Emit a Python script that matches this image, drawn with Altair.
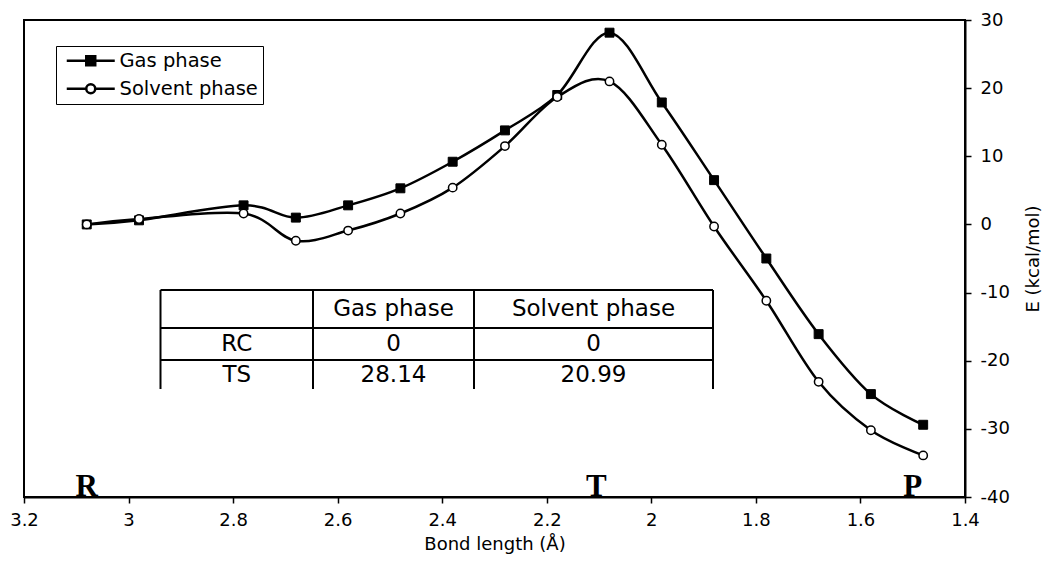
import altair as alt
import pandas as pd

# ---------------- data ----------------
bond_length = [3.08, 2.98, 2.78, 2.68, 2.58, 2.48, 2.38, 2.28, 2.18, 2.08,
               1.98, 1.88, 1.78, 1.68, 1.58, 1.48]
gas_phase = [0.0, 0.6, 2.8, 1.0, 2.8, 5.3, 9.2, 13.8, 19.0, 28.14,
             17.9, 6.5, -5.0, -16.1, -24.9, -29.4]
solvent_phase = [0.0, 0.8, 1.6, -2.4, -0.9, 1.6, 5.4, 11.5, 18.7, 20.99,
                 11.7, -0.3, -11.2, -23.1, -30.2, -33.9]
series_names = ["Gas phase", "Solvent phase"]

x_ticks = [3.2, 3.0, 2.8, 2.6, 2.4, 2.2, 2.0, 1.8, 1.6, 1.4]
y_ticks = [30, 20, 10, 0, -10, -20, -30, -40]

point_labels = ["R", "T", "P"]
point_label_x = [3.08, 2.105, 1.50]
point_label_y = [-40, -40, -40]

table_header = ["", "Gas phase", "Solvent phase"]
table_rows = [["RC", "0", "0"], ["TS", "28.14", "20.99"]]

# ---------------- layout ----------------
W, H = 941, 477
FONT = "DejaVu Sans"
col_edges = [136.5, 289, 450, 689]
row_edges = [270, 308, 340]
table_bottom = 369
col_centers = [(col_edges[i] + col_edges[i + 1]) / 2 for i in range(3)]
row_centers = [289, 324, 355]

df = pd.DataFrame({
    "bond": bond_length + bond_length,
    "E": gas_phase + solvent_phase,
    "series": [series_names[0]] * len(bond_length) + [series_names[1]] * len(bond_length),
})

x_enc = alt.X(
    "bond:Q",
    scale=alt.Scale(domain=[1.4, 3.2], reverse=True, nice=False, zero=False),
    axis=alt.Axis(
        title="Bond length (Å)", values=x_ticks, labelExpr="'' + datum.value",
        grid=False, tickSize=6, tickColor="black", tickWidth=1.5,
        domainColor="black", domainWidth=2, labelFont=FONT, labelFontSize=18,
        labelColor="black", labelPadding=8, labelFlush=False, labelOverlap=False,
        titleFont=FONT, titleFontSize=18, titleFontWeight="normal",
        titleColor="black", titlePadding=6,
    ),
)
y_enc = alt.Y(
    "E:Q",
    scale=alt.Scale(domain=[-40, 30], nice=False, zero=False),
    axis=alt.Axis(
        orient="right", title="E (kcal/mol)", values=y_ticks,
        labelExpr="'' + datum.value", grid=False, tickSize=6,
        tickColor="black", tickWidth=1.5, domainColor="black", domainWidth=2,
        labelFont=FONT, labelFontSize=18, labelColor="black", labelPadding=9,
        labelFlush=False, labelOverlap=False,
        titleFont=FONT, titleFontSize=18, titleFontWeight="normal",
        titleColor="black", titleAngle=270, titleX=68, titleY=H / 2,
        titleAlign="center", titleBaseline="middle",
    ),
)

lines = alt.Chart(df).mark_line(
    interpolate="cardinal", color="black", strokeWidth=2.5
).encode(x=x_enc, y=y_enc, detail="series:N")

gas_pts = alt.Chart(df).transform_filter(
    alt.datum.series == series_names[0]
).mark_point(shape="square", filled=True, fill="black", stroke="black",
             strokeWidth=1, size=80, opacity=1).encode(x=x_enc, y=y_enc)

sol_pts = alt.Chart(df).transform_filter(
    alt.datum.series == series_names[1]
).mark_point(shape="circle", filled=True, fill="white", stroke="black",
             strokeWidth=1.5, size=70, opacity=1).encode(x=x_enc, y=y_enc)

# legend symbols: a line with the marker in its middle (unit = 8 px)
gas_path = "M-3,0L3,0M-0.56,-0.56L0.56,-0.56L0.56,0.56L-0.56,0.56Z"
sol_path = ("M-3,0L-0.56,0M0.56,0L3,0M0.56,0A0.56,0.56,0,1,1,-0.56,0"
            "A0.56,0.56,0,1,1,0.56,0Z")

leg = alt.Legend(
    title=None, orient="none", legendX=32, legendY=26, padding=5,
    strokeColor="black", fillColor="white", symbolSize=256,
    symbolStrokeWidth=2.5, symbolOpacity=1,
    labelFont=FONT, labelFontSize=19.5, labelColor="black", rowPadding=7,
    symbolOffset=20, labelOffset=19,
)
legend_layer = alt.Chart(df).mark_point(opacity=0, filled=True, strokeWidth=2.5).encode(
    x=x_enc, y=y_enc,
    shape=alt.Shape("series:N", scale=alt.Scale(domain=series_names,
                                                range=[gas_path, sol_path]), legend=leg),
    fill=alt.Fill("series:N", scale=alt.Scale(domain=series_names,
                                              range=["black", "white"]), legend=leg),
    stroke=alt.Stroke("series:N", scale=alt.Scale(domain=series_names,
                                                  range=["black", "black"]), legend=leg),
)

rtp = alt.Chart(pd.DataFrame({
    "bond": point_label_x, "E": point_label_y, "label": point_labels
})).mark_text(font="Liberation Serif", fontWeight="bold", fontSize=31,
              baseline="alphabetic", align="center", color="black", dy=-1
).encode(x=x_enc, y=y_enc, text="label:N")

dummy = pd.DataFrame({"a": [0]})
table_layers = []
for cx in col_edges:
    table_layers.append(alt.Chart(dummy).mark_rule(color="black", strokeWidth=2).encode(
        x=alt.value(cx), x2=alt.value(cx), y=alt.value(row_edges[0]), y2=alt.value(table_bottom)))
for ry in row_edges:
    table_layers.append(alt.Chart(dummy).mark_rule(color="black", strokeWidth=2).encode(
        x=alt.value(col_edges[0]), x2=alt.value(col_edges[-1]), y=alt.value(ry), y2=alt.value(ry)))

all_rows = [table_header] + table_rows
for ri, row in enumerate(all_rows):
    for ci, txt in enumerate(row):
        if not txt:
            continue
        table_layers.append(alt.Chart(pd.DataFrame({"t": [txt]})).mark_text(
            font=FONT, fontSize=23, color="black", align="center", baseline="middle"
        ).encode(x=alt.value(col_centers[ci]), y=alt.value(row_centers[ri]), text="t:N"))

chart = alt.layer(lines, gas_pts, sol_pts, legend_layer, rtp, *table_layers).properties(
    width=W, height=H,
    padding={"left": 16, "top": 12, "right": 79, "bottom": 58},
    autosize=alt.AutoSizeParams(type="none"),
    background="white",
).configure_view(stroke="black", strokeWidth=2)

chart.save("out.html", embed_options={"renderer": "svg", "actions": False})
